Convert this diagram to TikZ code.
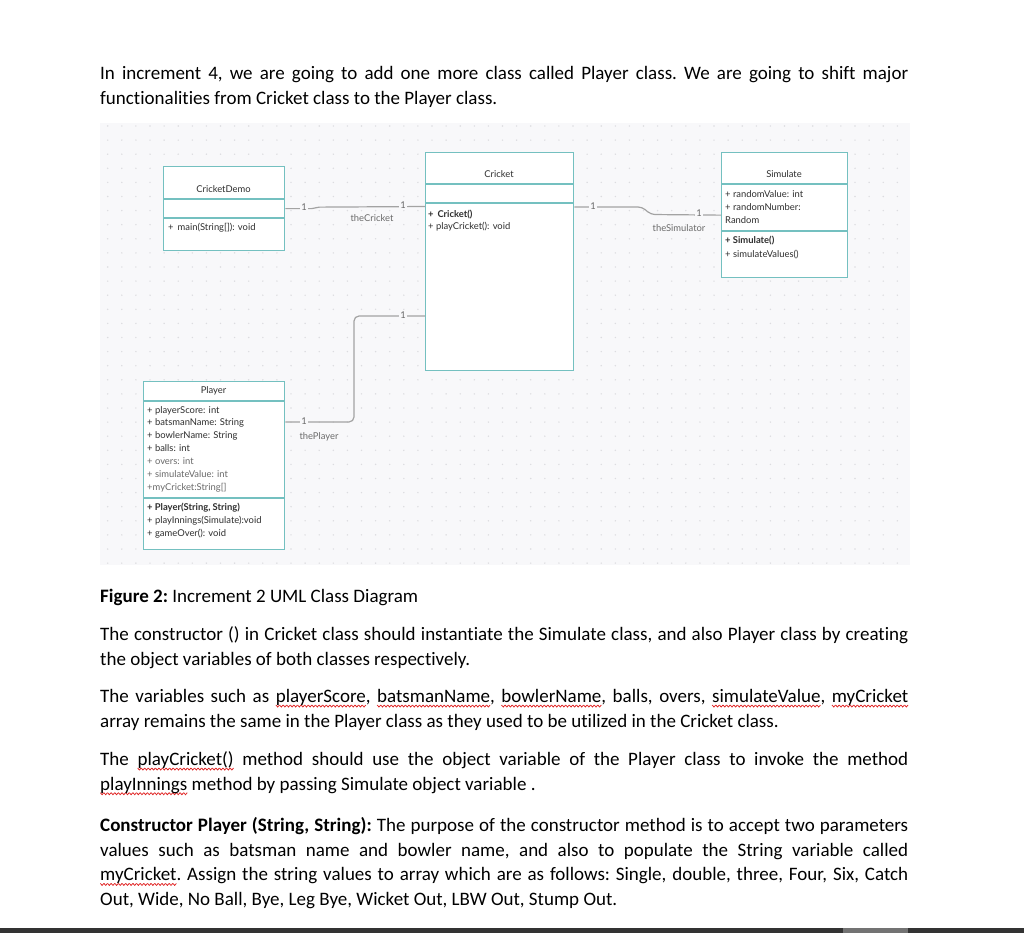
\documentclass[tikz,border=0pt]{standalone}
\usepackage{fontspec}
\setmainfont[Ligatures={NoCommon}]{Carlito}
\newfontfamily\latofont{Lato}
\newsavebox\wavebox
\newcommand\sqred[1]{\leavevmode\setbox0\hbox{#1}\rlap{\lower4.6pt\hbox to\wd0{\xleaders\copy\wavebox\hfill}}\box0\relax}
\definecolor{tealb}{HTML}{74C0C0}
\definecolor{conn}{HTML}{A3A3A3}
\definecolor{bgc}{HTML}{F8F8FA}
\definecolor{dotc}{HTML}{DCDCE0}
\definecolor{umltext}{HTML}{2E2E2E}
\definecolor{umlsoft}{HTML}{6A6A6A}
\definecolor{barc}{HTML}{333333}
\definecolor{spellred}{HTML}{E02020}
\begin{document}
\sbox\wavebox{\begin{pgfpicture}\pgfsetlinewidth{0.75pt}\pgfsetstrokecolor{spellred}%
\pgfpathmoveto{\pgfpoint{0pt}{2pt}}\pgfpathlineto{\pgfpoint{1.75pt}{0pt}}\pgfpathlineto{\pgfpoint{3.5pt}{2pt}}\pgfusepath{stroke}%
\pgfresetboundingbox\pgfpathrectangle{\pgfpointorigin}{\pgfpoint{3.5pt}{2pt}}\pgfusepath{use as bounding box}\end{pgfpicture}}%
\begin{tikzpicture}[x=1pt,y=-1pt,
  para/.style={anchor=base west, text width=808pt, align=justify, inner sep=0pt,
    font=\fontsize{19}{24.7}\selectfont\frenchspacing},
  umlbox/.style={draw=tealb, line width=1.3pt, fill=white, anchor=north west, inner sep=0pt},
  divider/.style={draw=tealb, line width=1.3pt},
  umltxt/.style={anchor=mid west, inner sep=0pt, text=umltext, font=\latofont\fontsize{9.4}{11}\selectfont},
  umlsofttxt/.style={umltxt, text=umlsoft},
  umltitle/.style={anchor=mid, inner sep=0pt, text=umltext, font=\latofont\fontsize{9.4}{11}\selectfont},
  connline/.style={draw=conn, line width=1.2pt},
  mult/.style={anchor=mid, fill=bgc, inner sep=1.5pt, text=umlsoft, font=\latofont\fontsize{9.4}{11}\selectfont},
  rolelbl/.style={anchor=mid, inner sep=0pt, text=umlsoft, font=\latofont\fontsize{9.4}{11}\selectfont}
]
\useasboundingbox (0,0) rectangle (1024,933);
\fill[white] (0,0) rectangle (1024,933);

% text above
\node[para] (p1) at (100,79.4) {In increment 4, we are going to add one more class called Player class. We are going to shift major\linebreak functionalities from Cricket class to the Player class.};

% diagram background
\fill[bgc] (100,123) rectangle (910,565);
\foreach \i in {0,...,56}{
  \foreach \j in {0,...,31}{
    \fill[dotc] (107.7+\i*14.1,126+\j*14.1) circle (0.8);
  }
}

% classes
\node[umlbox, minimum width=121pt, minimum height=84pt] (demo) at (163,166) {};
\draw[divider] ([yshift=-33pt]demo.north west) -- ([yshift=-33pt]demo.north east);
\draw[divider] ([yshift=-52pt]demo.north west) -- ([yshift=-52pt]demo.north east);
\node[umltitle] (demot) at (223.5,190) {CricketDemo};
\node[umltxt] (demom) at (168,228) {+\, main(String[]): void};

\node[umlbox, minimum width=148pt, minimum height=218pt] (cricket) at (425,152) {};
\draw[divider] ([yshift=-32pt]cricket.north west) -- ([yshift=-32pt]cricket.north east);
\draw[divider] ([yshift=-51pt]cricket.north west) -- ([yshift=-51pt]cricket.north east);
\node[umltitle] (crit) at (499,175) {Cricket};
\node[umltxt] (crim1) at (428,215) {\textbf{+\, Cricket()}};
\node[umltxt] (crim2) at (428,227.3) {+ playCricket(): void};

\node[umlbox, minimum width=126pt, minimum height=125pt] (sim) at (721,152) {};
\draw[divider] ([yshift=-32pt]sim.north west) -- ([yshift=-32pt]sim.north east);
\draw[divider] ([yshift=-79pt]sim.north west) -- ([yshift=-79pt]sim.north east);
\node[umltitle] (simt) at (784,175) {Simulate};
\node[umltxt] (sima1) at (725,195) {+ randomValue: int};
\node[umltxt] (sima2) at (725,208) {+ randomNumber:};
\node[umltxt] (sima3) at (725,221) {Random};
\node[umltxt] (simm1) at (725,241) {\textbf{+ Simulate()}};
\node[umltxt] (simm2) at (725,255) {+ simulateValues()};

\node[umlbox, minimum width=141pt, minimum height=168pt] (player) at (143,381) {};
\draw[divider] ([yshift=-20pt]player.north west) -- ([yshift=-20pt]player.north east);
\draw[divider] ([yshift=-117pt]player.north west) -- ([yshift=-117pt]player.north east);
\node[umltitle] (plt) at (213.5,391) {Player};
\node[umltxt] (pla1) at (147,411) {+ playerScore: int};
\node[umltxt] (pla2) at (147,423.5) {+ batsmanName: String};
\node[umltxt] (pla3) at (147,436) {+ bowlerName: String};
\node[umltxt] (pla4) at (147,449) {+ balls: int};
\node[umlsofttxt] (pla5) at (147,462) {+ overs: int};
\node[umlsofttxt] (pla6) at (147,475) {+ simulateValue: int};
\node[umlsofttxt] (pla7) at (147,488) {+myCricket:String[]};
\node[umltxt] (plm1) at (147,508) {\textbf{+ Player(String, String)}};
\node[umltxt] (plm2) at (147,521.5) {+ playInnings(Simulate):void};
\node[umltxt] (plm3) at (147,534) {+ gameOver(): void};

% connectors
\draw[connline, rounded corners=2pt] (demo.east) -- ++(28,0) -- ++(4,-1.5) -- (cricket.west |- 0,206.5);
\node[mult] (m1) at (304,208) {1};
\node[mult] (m2) at (403,206.5) {1};
\node[rolelbl] (r1) at (372,219) {theCricket};

\draw[connline, rounded corners=4pt] (cricket.east |- 0,207) -- (642,207) -- (651,214.5) -- (sim.west);
\node[mult] (m3) at (593,207) {1};
\node[mult] (m4) at (699,214.5) {1};
\node[rolelbl] (r2) at (679,229) {theSimulator};

\draw[connline, rounded corners=5pt] (player.east |- 0,422) -- (354,422) -- (354,316) -- (cricket.west |- 0,316);
\node[mult] (m5) at (304,422) {1};
\node[mult] (m6) at (403,316) {1};
\node[rolelbl] (r3) at (319,437) {thePlayer};

% text below
\node[para] (cap) at (100,602.4) {\textbf{Figure 2:} Increment 2 UML Class Diagram};
\node[para] (p2) at (100,640.4) {The constructor () in Cricket class should instantiate the Simulate class, and also Player class by creating\linebreak the object variables of both classes respectively.};
\node[para] (p3) at (100,702.4) {The variables such as \sqred{playerScore}, \sqred{batsmanName}, \sqred{bowlerName}, balls, overs, \sqred{simulateValue}, \sqred{myCricket}\linebreak array remains the same in the Player class as they used to be utilized in the Cricket class.};
\node[para] (p4) at (100,765.4) {The \sqred{playCricket()} method should use the object variable of the Player class to invoke the method\linebreak \sqred{playInnings} method by passing Simulate object variable .};
\node[para] (p5) at (100,831.4) {\textbf{Constructor Player (String, String):} The purpose of the constructor method is to accept two parameters\linebreak values such as batsman name and bowler name, and also to populate the String variable called\linebreak \sqred{myCricket}. Assign the string values to array which are as follows: Single, double, three, Four, Six, Catch\linebreak Out, Wide, No Ball, Bye, Leg Bye, Wicket Out, LBW Out, Stump Out.};

% bottom bar
\fill[barc] (0,928) rectangle (1024,933);
\fill[black!55] (843,928) rectangle (908,933);
\end{tikzpicture}
\end{document}
